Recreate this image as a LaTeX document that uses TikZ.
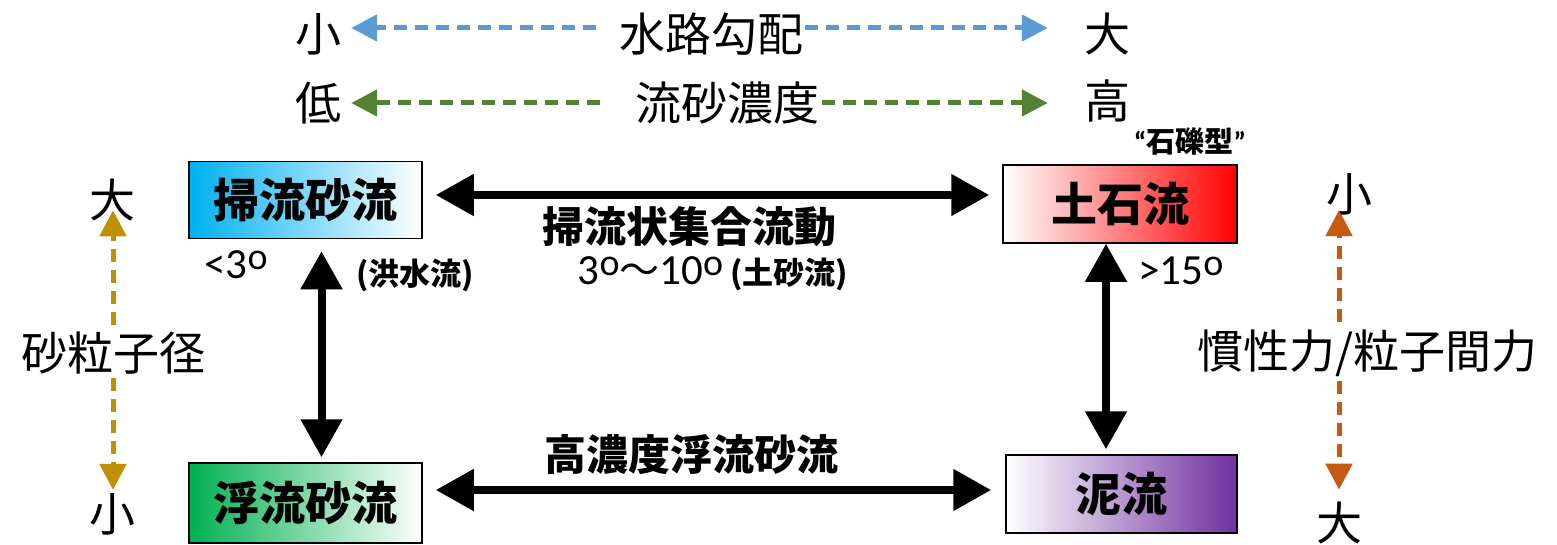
\documentclass[tikz,border=0pt]{standalone}
\usepackage{fontspec}
\usepackage{graphicx}
\setmainfont{Carlito}
\newfontfamily\cjk{Noto Sans CJK JP}
\usetikzlibrary{arrows.meta,calc}
\definecolor{dblue}{RGB}{91,155,213}
\definecolor{dgreen}{RGB}{84,130,53}
\definecolor{dgold}{RGB}{191,144,0}
\definecolor{dorange}{RGB}{197,90,17}
\definecolor{bcyan}{RGB}{0,176,240}
\definecolor{bgreen}{RGB}{0,176,80}
\definecolor{bred}{RGB}{255,0,0}
\definecolor{bpurple}{RGB}{112,48,160}
\newcommand\supo{\raisebox{9pt}{\fontsize{38}{38}\selectfont o}}
\begin{document}
\begin{tikzpicture}[x=1pt,y=-1pt,
  lab/.style={inner sep=0pt, font=\cjk\fontsize{46}{50}\selectfont},
  mid/.style={inner sep=0pt, font=\cjk\bfseries\fontsize{42}{46}\selectfont},
  small/.style={inner sep=0pt, font=\cjk\bfseries\fontsize{31}{34}\selectfont},
  num/.style={inner sep=0pt, font=\fontsize{43}{47}\selectfont},
  box/.style={draw=black, line width=1.5pt, inner sep=0pt, minimum width=233pt,
    minimum height=77pt, font=\cjk\bfseries\fontsize{46}{50}\selectfont},
  darr/.style={line width=5pt, dash pattern=on 13pt off 8pt,
    -{Triangle[length=26pt,width=26pt]}},
  bigarr/.style={line width=8pt,
    {Triangle[length=38pt,width=40pt]}-{Triangle[length=38pt,width=40pt]}}
]
\fill[white] (0,0) rectangle (1557,545);
\useasboundingbox (0,0) rectangle (1557,545);

% top scales
\node[lab] (s1) at (318,34) {小};
\node[lab] (t1) at (711,34) {水路勾配};
\node[lab] (b1) at (1107,34) {大};
\node[lab] (s2) at (318,103) {低};
\node[lab] (t2) at (727,103) {流砂濃度};
\node[lab] (b2) at (1107,101) {高};
\draw[darr, dblue] ($(t1.west)+(-23,-6)$) -- ($(t1.west -| s1.east)+(10,-6)$);
\draw[darr, dblue] ($(t1.east)+(2,-6)$) -- ($(t1.east -| b1.west)+(-36,-6)$);
\draw[darr, dgreen] ($(t2.west)+(-35,0)$) -- ($(t2.west -| s2.east)+(10,0)$);
\draw[darr, dgreen] ($(t2.east)+(3,0)$) -- ($(t2.east -| b2.west)+(-36,0)$);

% boxes
\node[box, left color=bcyan, right color=white] (A) at (305.5,200) {掃流砂流};
\node[box, left color=white, right color=bred, minimum width=234pt, minimum height=78pt] (B) at (1120,204) {土石流};
\node[box, left color=bgreen, right color=white, minimum height=80pt] (C) at (305.5,503) {浮流砂流};
\node[box, left color=white, right color=bpurple, minimum width=231pt, minimum height=78pt] (D) at (1121.5,494) {泥流};

% black arrows
\draw[bigarr] ($(A.east)+(13,-5)$) -- ($(A.east -| B.west)+(-13,-5)$);
\draw[bigarr] ($(C.east |- D.west)+(13,-4)$) -- ($(D.west)+(-14,-4)$);
\draw[bigarr] ($(A.south)+(16,12)$) -- ($(A.south |- C.north)+(16,-5)$);
\draw[bigarr] ($(B.south)+(-14,0)$) -- ($(B.south |- D.north)+(-14,-5)$);

% labels
\node[num] (a1) at (236,265) {<3\supo};
\node[small] (a2) at (415,275) {(洪水流)};
\node[mid] (m1) at (689,227) {掃流状集合流動};
\node[inner sep=0pt, font=\fontsize{43}{47}\selectfont] (m2) at (713,274) {3\supo{\cjk\fontsize{40}{44}\selectfont 〜}10\supo\,{\cjk\bfseries\fontsize{31}{34}\selectfont (土砂流)}};
\node[num] (a3) at (1181,271) {>15\supo};
\node[inner sep=0pt, font=\bfseries\fontsize{29}{32}\selectfont] (q) at (1190,141) {“{\cjk 石礫型}”};
\node[mid] (m3) at (691,455) {高濃度浮流砂流};

% side scales
\node[lab] (v1) at (112,200) {大};
\node[lab] (g) at (113,353) {砂粒子径};
\node[lab] (v2) at (112,514) {小};
\draw[darr, dgold] ($(g.north)+(0,-7)$) -- ($(g.north |- v1.south)+(0,-11)$);
\draw[darr, dgold] ($(g.south)+(0,4)$) -- ($(g.south |- v2.north)+(0,-3)$);

\node[lab] (o1) at (1349,194) {小};
\node[lab] (h) at (1367,353) {慣性力/粒子間力};
\node[lab] (o2) at (1339,523) {大};
\draw[darr, dorange] ($(o2.north |- h.north)+(0,-7)$) -- ($(o2.north |- o1.south)+(0,-5)$);
\draw[darr, dorange] ($(o2.north |- h.south)+(0,4)$) -- ($(o2.north)+(0,-12)$);
\end{tikzpicture}
\end{document}
